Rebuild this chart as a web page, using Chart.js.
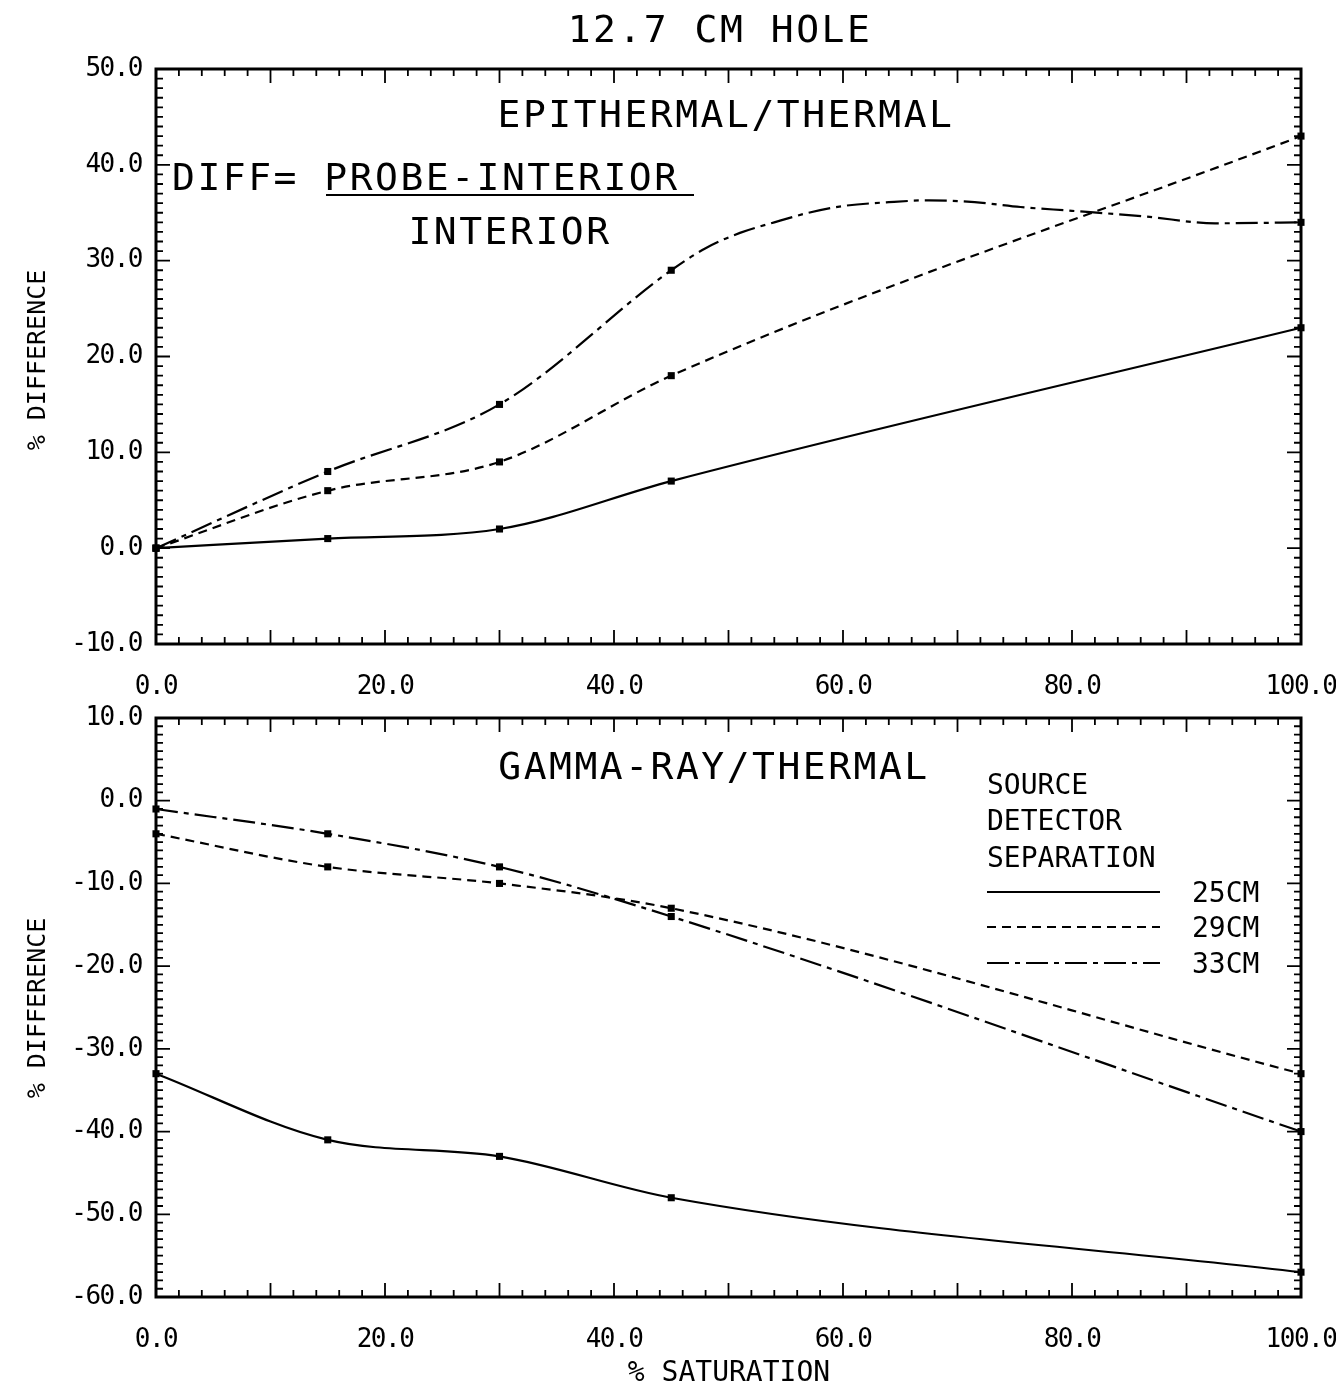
<!DOCTYPE html>
<html>
<head>
<meta charset="utf-8">
<title>12.7 CM HOLE</title>
<script src="https://cdn.jsdelivr.net/npm/chart.js@4.4.1/dist/chart.umd.min.js"></script>
<style>
  body { margin: 0; background: #fff; }
  #wrap { position: relative; width: 1336px; height: 1393px; }
  #wrap canvas { position: absolute; left: 0; }
</style>
</head>
<body>
<div id="wrap">
  <canvas id="epi" width="1336" height="700" style="top:0"></canvas>
  <canvas id="gamma" width="1336" height="693" style="top:700px"></canvas>
</div>
<script>
// ---- data ----
const saturation = [0, 15, 30, 45, 100];          // % saturation where points were measured
const seriesLabels = ['25CM', '29CM', '33CM'];

// epithermal/thermal, % difference
const epi25 = [0, 1, 2, 7, 23];
const epi29 = [0, 6, 9, 18, 43];
const epi33 = [0, 8, 15, 29, 34];
// the 33CM curve bulges above both end points between 45 and 100
const epi33TraceX = [48, 51, 54, 57, 60, 64, 67.5, 71.5, 75.5, 80, 86.5, 92.5];
const epi33TraceY = [31.3, 32.9, 34.0, 35.0, 35.7, 36.1, 36.3, 36.1, 35.6, 35.2, 34.6, 33.9];

// gamma-ray/thermal, % difference
const gam25 = [-33, -41, -43, -48, -57];
const gam29 = [-4, -8, -10, -13, -33];
const gam33 = [-1, -4, -8, -14, -40];

const xTicks = { min: 0, max: 100, step: 20 };
const epiTicks = { min: -10, max: 50, step: 10 };
const gamTicks = { min: -60, max: 10, step: 10 };

// line styles per separation
const dashes = [[], [9, 6], [22, 6, 5, 6]];

const FONT = "'DejaVu Sans Mono', 'Liberation Mono', monospace";
Chart.defaults.font.family = FONT;
Chart.defaults.color = '#000';

function pts(xs, ys) {
  return xs.map((x, i) => ({ x, y: ys[i] }));
}

function makeSets(values) {
  return values.map((v, i) => ({
    label: seriesLabels[i],
    data: v,
    borderColor: '#000',
    borderWidth: 2.2,
    borderDash: dashes[i],
    backgroundColor: '#000',
    pointStyle: 'rect',
    pointRadius: c => saturation.includes(c.raw.x) ? 5 : 0,
    pointBorderWidth: 0,
    pointBackgroundColor: '#000',
    cubicInterpolationMode: 'monotone',
    clip: 8
  }));
}

// frame with inward ticks on all four sides, plus the hand lettering
const framePlugin = {
  id: 'frame',
  beforeDraw(chart) {
    // plotter lettering is tall and tightly set
    chart.ctx.letterSpacing = '-1.5px';
  },
  afterDraw(chart, args, opts) {
    const { ctx, chartArea: a, scales: { x, y } } = chart;
    ctx.save();
    ctx.strokeStyle = '#000';
    ctx.lineWidth = 3;
    ctx.strokeRect(a.left, a.top, a.width, a.height);

    ctx.lineWidth = 1.8;
    ctx.beginPath();
    for (let i = 0; i <= 50; i++) {
      const v = i * 2;
      const px = x.getPixelForValue(v);
      const len = v % 10 === 0 ? 14 : 7;
      ctx.moveTo(px, a.bottom); ctx.lineTo(px, a.bottom - len);
      ctx.moveTo(px, a.top); ctx.lineTo(px, a.top + len);
    }
    for (let v = y.min; v <= y.max; v++) {
      const py = y.getPixelForValue(v);
      const len = v % 10 === 0 ? 14 : 7;
      ctx.moveTo(a.left, py); ctx.lineTo(a.left + len, py);
      ctx.moveTo(a.right, py); ctx.lineTo(a.right - len, py);
    }
    ctx.stroke();

    ctx.fillStyle = '#000';
    (opts.texts || []).forEach(t => {
      ctx.save();
      ctx.font = `${t.size}px ${FONT}`;
      ctx.letterSpacing = (t.spacing || 0) + 'px';
      ctx.textAlign = t.align || 'center';
      ctx.textBaseline = 'alphabetic';
      ctx.translate(t.x, t.y);
      if (t.rotate) ctx.rotate(t.rotate);
      ctx.fillText(t.text, 0, 0.729 * t.size / 2);
      ctx.restore();
    });
    (opts.rules || []).forEach(r => {
      ctx.lineWidth = 2;
      ctx.setLineDash([]);
      ctx.beginPath(); ctx.moveTo(r[0], r[1]); ctx.lineTo(r[2], r[1]); ctx.stroke();
    });

    // legend: sample line then label
    if (opts.legend) {
      const L = opts.legend;
      ctx.letterSpacing = '0px';
      chart.data.datasets.forEach((ds, i) => {
        const ly = L.y[i];
        ctx.lineWidth = 2.2;
        ctx.setLineDash(ds.borderDash);
        ctx.beginPath(); ctx.moveTo(L.x0, ly); ctx.lineTo(L.x1, ly); ctx.stroke();
        ctx.setLineDash([]);
        ctx.font = `${L.size}px ${FONT}`;
        ctx.textAlign = 'left';
        ctx.textBaseline = 'alphabetic';
        ctx.fillText(ds.label, L.tx, ly + 0.729 * L.size / 2);
      });
    }
    ctx.restore();
  }
};

function makeChart(id, sets, yT, top, xHeight, plugOpts) {
  return new Chart(document.getElementById(id), {
    type: 'line',
    data: { datasets: sets },
    plugins: [framePlugin],
    options: {
      responsive: false,
      animation: false,
      layout: { padding: { left: 0, right: 35, top: top, bottom: 0 } },
      scales: {
        x: {
          type: 'linear', min: xTicks.min, max: xTicks.max,
          grid: { display: false, drawTicks: false }, border: { display: false },
          ticks: { stepSize: xTicks.step, padding: 28, maxRotation: 0, autoSkip: false,
                   font: { size: 26 }, callback: v => v.toFixed(1) },
          afterFit(s) { s.height = xHeight; s.paddingLeft = 0; s.paddingRight = 0; }
        },
        y: {
          min: yT.min, max: yT.max,
          grid: { display: false, drawTicks: false }, border: { display: false },
          ticks: { stepSize: yT.step, padding: 14, font: { size: 26 }, callback: v => v.toFixed(1) },
          afterFit(s) { s.width = 156; s.paddingTop = 0; s.paddingBottom = 0; }
        }
      },
      plugins: {
        legend: { display: false },
        tooltip: { enabled: false },
        frame: plugOpts
      }
    }
  });
}

const epi33All = pts(saturation.slice(0, 4), epi33.slice(0, 4))
  .concat(pts(epi33TraceX, epi33TraceY))
  .concat(pts(saturation.slice(4), epi33.slice(4)));

makeChart('epi', makeSets([pts(saturation, epi25), pts(saturation, epi29), epi33All]),
  epiTicks, 69, 56, {
    texts: [
      { text: '12.7 CM HOLE', x: 720, y: 28, size: 38, spacing: 2.5 },
      { text: 'EPITHERMAL/THERMAL', x: 726, y: 113, size: 38, spacing: 2.5 },
      { text: 'DIFF= PROBE-INTERIOR', x: 172, y: 176, size: 38, spacing: 2.5, align: 'left' },
      { text: 'INTERIOR', x: 510, y: 230, size: 38, spacing: 2.5 },
      { text: '% DIFFERENCE', x: 36, y: 360, size: 25, rotate: -Math.PI / 2 }
    ],
    rules: [[326, 195, 694]]
  });

makeChart('gamma', makeSets([pts(saturation, gam25), pts(saturation, gam29), pts(saturation, gam33)]),
  gamTicks, 18, 96, {
    texts: [
      { text: 'GAMMA-RAY/THERMAL', x: 714, y: 65, size: 38, spacing: 2.5 },
      { text: 'SOURCE', x: 987, y: 84, size: 28, align: 'left' },
      { text: 'DETECTOR', x: 987, y: 120, size: 28, align: 'left' },
      { text: 'SEPARATION', x: 987, y: 157, size: 28, align: 'left' },
      { text: '% DIFFERENCE', x: 36, y: 308, size: 25, rotate: -Math.PI / 2 },
      { text: '% SATURATION', x: 729, y: 671, size: 28 }
    ],
    legend: { x0: 987, x1: 1160, tx: 1192, y: [192, 227, 263], size: 28 }
  });
</script>
</body>
</html>
